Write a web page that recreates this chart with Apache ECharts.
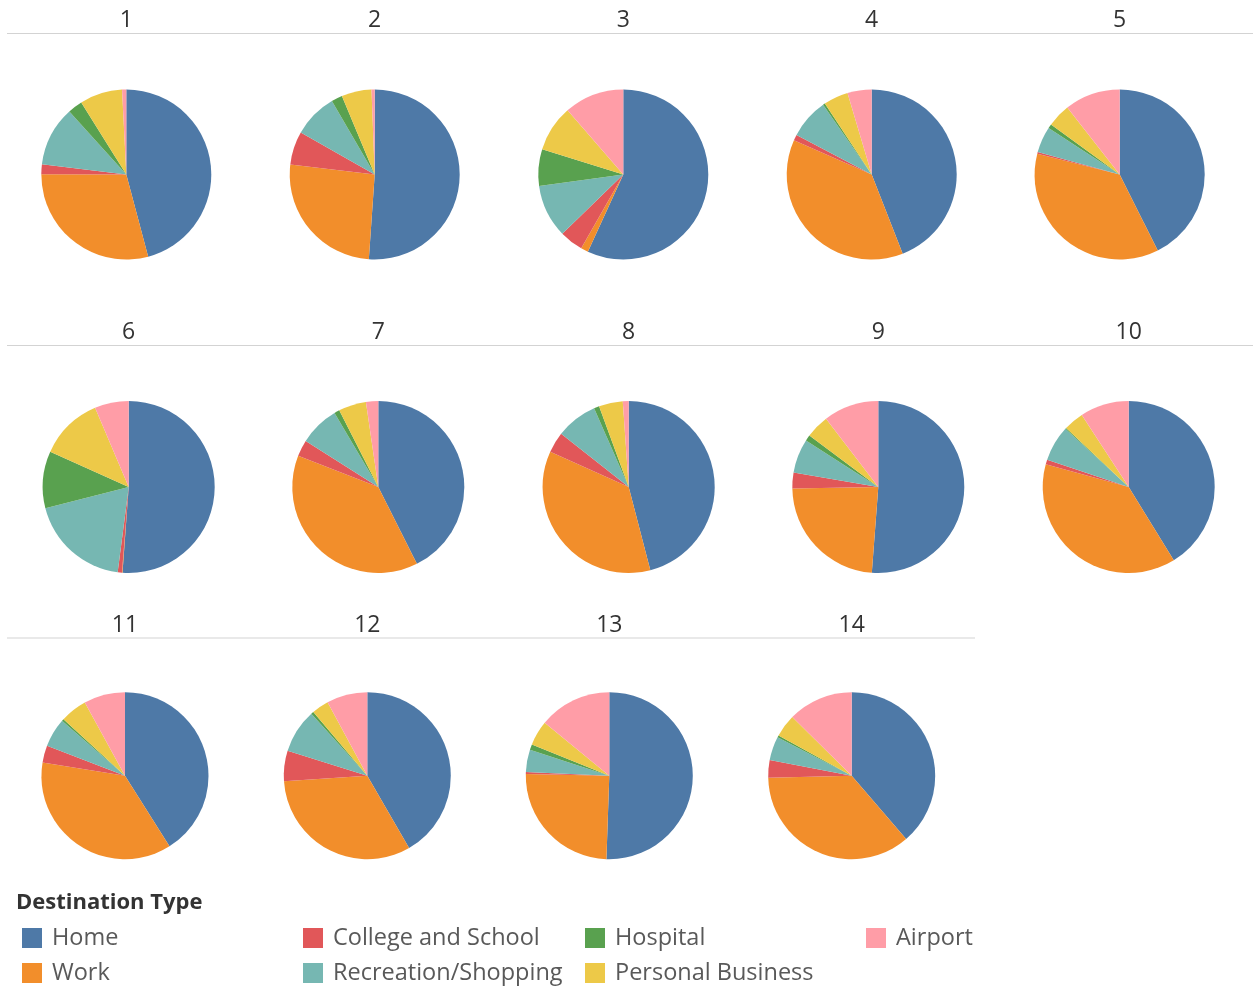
<!DOCTYPE html>
<html>
<head>
<meta charset="utf-8">
<title>Destination Type by group</title>
<script src="https://cdn.jsdelivr.net/npm/echarts@6/dist/echarts.min.js"></script>
<style>
  html, body { margin: 0; padding: 0; background: #fff; }
  #chart { width: 1253px; height: 989px; }
</style>
</head>
<body>
<div id="chart"></div>
<script>
// destination types, in slice order (clockwise from 12 o'clock)
const categories = ['Home', 'Work', 'College and School', 'Recreation/Shopping', 'Hospital', 'Personal Business', 'Airport']
const pieLabels = ['1', '2', '3', '4', '5', '6', '7', '8', '9', '10', '11', '12', '13', '14']

// share (%) of each destination type, one value per pie 1..14
const home = [45.9, 51.1, 56.9, 44.1, 42.7, 51.2, 42.6, 46.0, 51.2, 41.3, 41.1, 41.7, 50.6, 38.7]
const work = [29.2, 25.8, 1.4, 37.6, 36.4, 0.1, 38.3, 35.8, 23.5, 38.1, 36.5, 32.3, 24.8, 35.9]
const college = [1.9, 6.3, 4.5, 1.1, 0.3, 0.8, 3.1, 3.9, 3.0, 0.9, 3.3, 5.9, 0.4, 3.4]
const recreation = [11.4, 8.4, 10.1, 7.6, 5.0, 19.0, 7.5, 7.8, 6.4, 6.7, 5.6, 8.5, 4.3, 4.6]
const hospital = [2.8, 2.1, 7.0, 0.4, 0.8, 10.7, 1.0, 1.0, 1.1, 0.2, 0.4, 0.5, 1.1, 0.4]
const personal = [8.1, 5.7, 8.8, 4.7, 4.4, 11.9, 5.2, 4.5, 4.4, 3.8, 5.2, 3.3, 4.8, 4.4]
const airport = [0.8, 0.6, 11.4, 4.6, 10.6, 6.4, 2.3, 1.1, 10.4, 9.2, 8.0, 7.9, 14.1, 12.6]

const shares = [home, work, college, recreation, hospital, personal, airport]
const colors = ['#4e79a7', '#f28e2b', '#e15759', '#76b7b2', '#59a14f', '#edc948', '#ff9da7']

// layout: pixel centre of each pie, its radius and the header row it sits in
const rows = [
  { y: 174.5, r: 85, titleY: 20.5, lineY: 33.5, lineEnd: 1253, xs: [126.3, 374.7, 623.3, 871.7, 1119.7] },
  { y: 487, r: 86, titleY: 332.5, lineY: 345.5, lineEnd: 1253, xs: [128.7, 378.3, 628.7, 878.3, 1128.7] },
  { y: 775.7, r: 83.5, titleY: 625.5, lineY: 638, lineEnd: 975, xs: [125, 367.3, 609.3, 851.7] }
]
const FONT = '"Open Sans", "DejaVu Sans", sans-serif'

const chart = echarts.init(document.getElementById('chart'))

const series = []
const titles = []
const graphics = []
let idx = 0
rows.forEach(row => {
  graphics.push({
    type: 'line',
    shape: { x1: 7, y1: row.lineY, x2: row.lineEnd, y2: row.lineY },
    style: { stroke: '#d3d3d3', lineWidth: 1.2 },
    silent: true
  })
  row.xs.forEach(x => {
    const i = idx++
    titles.push({
      text: pieLabels[i],
      left: x,
      top: row.titleY,
      padding: 0,
      textAlign: 'center',
      textVerticalAlign: 'middle',
      textStyle: { fontFamily: FONT, fontSize: 23, fontWeight: 'normal', color: '#333' }
    })
    series.push({
      name: pieLabels[i],
      type: 'pie',
      center: [x, row.y],
      radius: [0, row.r],
      startAngle: 90,
      clockwise: true,
      avoidLabelOverlap: false,
      label: { show: false },
      labelLine: { show: false },
      emphasis: { scale: false },
      itemStyle: { borderWidth: 0 },
      data: categories.map((c, k) => ({ name: c, value: shares[k][i] }))
    })
  })
})

titles.push({
  text: 'Destination Type',
  left: 16,
  top: 892,
  padding: 0,
  textStyle: { fontFamily: FONT, fontSize: 22, fontWeight: 'bold', color: '#333' }
})

// four legend columns, two entries each, filled top to bottom
const legendCols = [[0, 1], [2, 3], [4, 5], [6]]
const legendX = [22, 303, 585, 866]
const legends = legendCols.map((col, c) => ({
  data: col.map(k => categories[k]),
  orient: 'vertical',
  left: legendX[c],
  top: 926,
  padding: 0,
  itemGap: 11,
  itemWidth: 20,
  itemHeight: 20,
  icon: 'rect',
  selectedMode: false,
  textStyle: { fontFamily: FONT, fontSize: 23.5, color: '#595959', lineHeight: 20, padding: [0, 0, 0, 5] }
}))

chart.setOption({
  animation: false,
  color: colors,
  title: titles,
  legend: legends,
  graphic: graphics,
  series: series
})
</script>
</body>
</html>
